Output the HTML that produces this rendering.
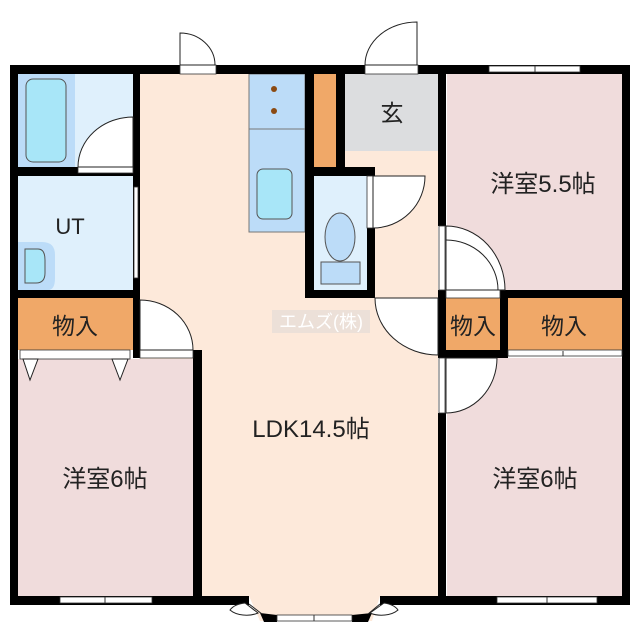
<!DOCTYPE html>
<html><head><meta charset="utf-8"><style>
html,body{margin:0;padding:0;background:#fff;}
svg{display:block}
text{font-family:"Liberation Sans","Noto Sans CJK JP",sans-serif;fill:#222;}
</style></head><body>
<svg width="640" height="640" viewBox="0 0 640 640" xmlns="http://www.w3.org/2000/svg">
<rect x="140" y="74" width="298" height="522" fill="#fde9da"/>
<rect x="345" y="74" width="93" height="77" fill="#dcdddf"/>
<rect x="18" y="74" width="115" height="93" fill="#dff0fc"/>
<rect x="18" y="74" width="57" height="93" fill="#bcdcf8"/>
<rect x="26" y="79" width="40" height="83" rx="7" fill="#a8e6f8" stroke="#555" stroke-width="1"/>
<rect x="18" y="176" width="115" height="114" fill="#dff0fc"/>
<path d="M18 242 H42 Q55 242 55 255 V278 Q55 290 48 290 H18 Z" fill="#bcdcf8"/>
<path d="M25 249 H38 Q45 249 45 260 V273 Q45 283 36 283 H25 Z" fill="#a8e6f8" stroke="#555" stroke-width="1"/>
<rect x="18" y="298" width="115" height="52" fill="#f0a868"/>
<rect x="18" y="359" width="175" height="237" fill="#f0dcdc"/>
<rect x="447" y="74" width="175" height="216" fill="#f0dcdc"/>
<rect x="447" y="358" width="175" height="238" fill="#f0dcdc"/>
<rect x="446" y="298" width="54" height="52" fill="#f0a868"/>
<rect x="508" y="298" width="114" height="52" fill="#f0a868"/>
<rect x="314" y="74" width="22" height="93" fill="#f0a868"/>
<rect x="314" y="176" width="53" height="114" fill="#dff0fc"/>
<ellipse cx="340" cy="237" rx="15" ry="24" fill="#bcdcf8" stroke="#555" stroke-width="1"/>
<rect x="321" y="262" width="39" height="22" fill="#bcdcf8" stroke="#555" stroke-width="1"/>
<rect x="249" y="74" width="56" height="158" fill="#bcdcf8" stroke="#777" stroke-width="1"/>
<line x1="249" y1="129" x2="305" y2="129" stroke="#777"/>
<circle cx="274" cy="89" r="3" fill="#8b4a12"/>
<circle cx="274" cy="111" r="3" fill="#8b4a12"/>
<rect x="257" y="169" width="35" height="50" rx="6" fill="#a8e6f8" stroke="#555"/>
<path d="M249 596 H380 L372 621 H260 Z" fill="#fde9da"/>
<g fill="#000">
<rect x="10" y="65" width="620" height="9"/>
<rect x="10" y="65" width="8" height="540"/>
<rect x="622" y="65" width="8" height="540"/>
<rect x="10" y="596" width="239" height="9"/>
<rect x="380" y="596" width="250" height="9"/>
<rect x="133" y="74" width="7" height="284"/>
<rect x="18" y="167" width="115" height="9"/>
<rect x="18" y="290" width="122" height="8"/>
<rect x="193" y="350" width="9" height="250"/>
<rect x="305" y="65" width="9" height="233"/>
<rect x="336" y="74" width="9" height="93"/>
<rect x="305" y="167" width="70" height="9"/>
<rect x="367" y="228" width="8" height="70"/>
<rect x="305" y="290" width="70" height="8"/>
<rect x="438" y="74" width="8" height="152"/>
<rect x="438" y="290" width="184" height="8"/>
<rect x="438" y="298" width="8" height="60"/>
<rect x="500" y="298" width="8" height="60"/>
<rect x="438" y="350" width="70" height="8"/>
<rect x="438" y="413" width="8" height="187"/>
<path d="M260 613 L277 615 L277 622 L264 622 Z"/>
<path d="M372 613 L352 615 L352 622 L368 622 Z"/>
</g>
<g stroke="#222" stroke-width="1">
<line x1="249" y1="604" x2="262" y2="614"/>
<line x1="380" y1="604" x2="368" y2="614"/>
</g>
<g fill="#fff" stroke="#333" stroke-width="0.8">
<rect x="180" y="65" width="36" height="9"/>
<rect x="365" y="65" width="53" height="9"/>
<rect x="489" y="66" width="91" height="6"/>
<rect x="78" y="167" width="55" height="6"/>
<rect x="134" y="187" width="4" height="91"/>
<rect x="20" y="350" width="110" height="9"/>
<rect x="140" y="350" width="53" height="8"/>
<rect x="367" y="176" width="6" height="52"/>
<rect x="439" y="226" width="6" height="64"/>
<rect x="446" y="290" width="54" height="8"/>
<rect x="439" y="358" width="6" height="55"/>
<rect x="508" y="350" width="114" height="6"/>
<rect x="60" y="597" width="92" height="6"/>
<rect x="497" y="597" width="100" height="6"/>
<rect x="277" y="615" width="75" height="6"/>
</g>
<g fill="#fff" stroke="#222" stroke-width="1">
<path d="M180 65 V33 A35 32 0 0 1 215 65 Z"/>
<path d="M417 65 V22 A52 43 0 0 0 365 65 Z"/>
<path d="M133 167 V117 A55 50 0 0 0 78 167 Z"/>
<path d="M140 300 A53 50 0 0 1 193 350 H140 Z"/>
<path d="M373 176 H425 A52 52 0 0 1 373 228 Z"/>
<path d="M438 298 H375 A63 57 0 0 0 438 355 Z"/>
<path d="M446 226 A59 64 0 0 1 505 290 H446 Z"/>
<path d="M446 240 A52 50 0 0 1 498 290" fill="none"/>
<path d="M446 358 H497 A51 55 0 0 1 446 413 Z"/>
<path d="M23 359 L38 359 L30 380 Z"/>
<path d="M112 359 L128 359 L120 380 Z"/>
<path d="M245 603 A20 12 0 0 0 230 610 A20 12 0 0 0 258 613 Z"/>
<path d="M384 603 A20 12 0 0 1 398 610 A20 12 0 0 1 370 613 Z"/>
</g>
<g stroke="#333" stroke-width="1">
<line x1="535" y1="66" x2="535" y2="72"/><line x1="563" y1="351" x2="563" y2="356"/>
<line x1="105" y1="597" x2="105" y2="603"/><line x1="547" y1="597" x2="547" y2="603"/>
<line x1="314" y1="615" x2="314" y2="621"/>
</g>
<rect x="272" y="310" width="98" height="23" fill="#ece0d8"/>
<text x="321" y="328" font-size="18" text-anchor="middle" style="fill:#fff">エムズ(株)</text>
<g text-anchor="middle">
<text x="392" y="121" font-size="23">玄</text>
<text x="70" y="234" font-size="22">UT</text>
<text x="543" y="192" font-size="24">洋室5.5帖</text>
<text x="75" y="334" font-size="23">物入</text>
<text x="473" y="334" font-size="23">物入</text>
<text x="564" y="334" font-size="23">物入</text>
<text x="311" y="437" font-size="24">LDK14.5帖</text>
<text x="105" y="487" font-size="24">洋室6帖</text>
<text x="535" y="487" font-size="24">洋室6帖</text>
</g>
</svg>
</body></html>
